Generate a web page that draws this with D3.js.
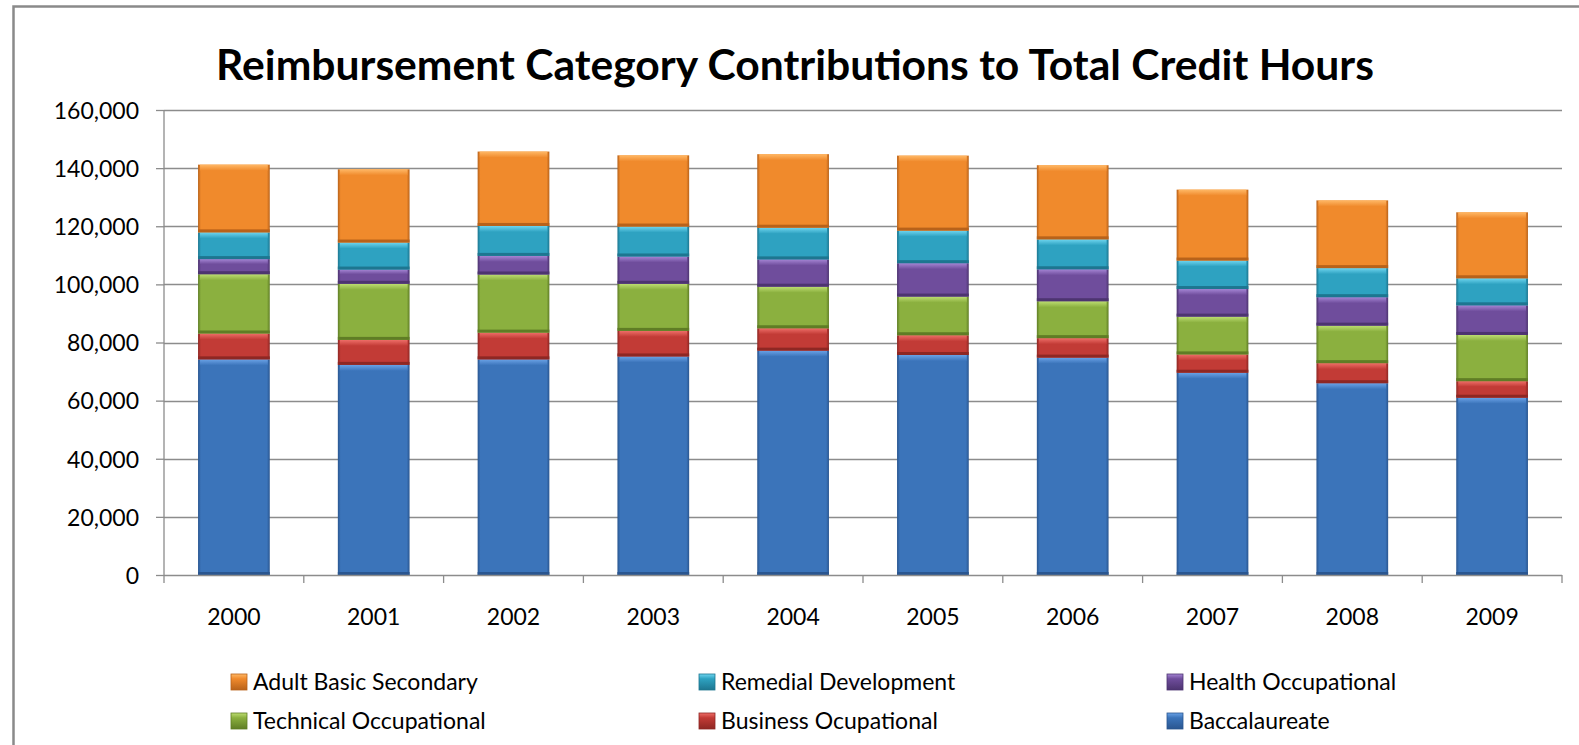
<!DOCTYPE html>
<html>
<head>
<meta charset="utf-8">
<script src="https://cdn.jsdelivr.net/npm/d3@7"></script>
<style>
  html, body { margin: 0; padding: 0; background: #fff; overflow: hidden; }
  svg { display: block; font-family: Lato, "Open Sans", sans-serif; }
</style>
</head>
<body>
<svg id="chart" width="1579" height="745"></svg>
<script>
// ---- data ----
const years = ["2000","2001","2002","2003","2004","2005","2006","2007","2008","2009"];
const baccalaureate = [74200, 72300, 74200, 75200, 77200, 75700, 74800, 69600, 66000, 61000];
const businessOccupational = [8900, 8600, 9200, 8800, 7700, 6800, 6700, 6300, 6900, 5700];
const technicalOccupational = [20400, 19300, 20000, 16200, 14300, 13300, 12700, 13000, 12900, 15900];
const healthOccupational = [5200, 4900, 6400, 9400, 9400, 11500, 11000, 9500, 9800, 10200];
const remedialDevelopment = [9200, 9300, 10300, 10300, 10900, 11200, 10300, 9800, 10000, 9300];
const adultBasicSecondary = [23300, 25200, 25600, 24500, 25300, 25800, 25500, 24400, 23300, 22700];
const seriesNames = ["Baccalaureate","Business Ocupational","Technical Occupational","Health Occupational","Remedial Development","Adult Basic Secondary"];
const seriesValues = [baccalaureate, businessOccupational, technicalOccupational, healthOccupational, remedialDevelopment, adultBasicSecondary];
const legendOrder = ["Adult Basic Secondary","Remedial Development","Health Occupational","Technical Occupational","Business Ocupational","Baccalaureate"];
const yTicks = [0, 20000, 40000, 60000, 80000, 100000, 120000, 140000, 160000];
const title = "Reimbursement Category Contributions to Total Credit Hours";

// ---- styles ----
const colors = {
  "Baccalaureate":          {base:"#3b74ba", light:"#6aa2e6", dark:"#2a5690"},
  "Business Ocupational":   {base:"#c23b36", light:"#ee6e68", dark:"#8e2723"},
  "Technical Occupational": {base:"#8bb03f", light:"#bddd72", dark:"#5f7d25"},
  "Health Occupational":    {base:"#6f4d9c", light:"#a585d4", dark:"#4d3470"},
  "Remedial Development":   {base:"#2ea2c1", light:"#6fd5ef", dark:"#1d7690"},
  "Adult Basic Secondary":  {base:"#f08a2c", light:"#ffb866", dark:"#b8621a"}
};
const labelFont = 23;

const svg = d3.select("#chart");
const plot = {left:164, right:1562, top:110, bottom:575};

// outer frame (only top and left edges are inside the window)
svg.append("path").attr("d", "M13.5,760V6.5H1600")
  .attr("fill", "none").attr("stroke", "#8a8a8a").attr("stroke-width", 2.5);

// gradients
const defs = svg.append("defs");
seriesNames.forEach((n, i) => {
  const c = colors[n];
  const g = defs.append("linearGradient").attr("id", "hg" + i).attr("x1", 0).attr("x2", 1).attr("y1", 0).attr("y2", 0);
  g.append("stop").attr("offset", "0%").attr("stop-color", c.dark);
  g.append("stop").attr("offset", "4%").attr("stop-color", c.base);
  g.append("stop").attr("offset", "96%").attr("stop-color", c.base);
  g.append("stop").attr("offset", "100%").attr("stop-color", c.dark);
  const t = defs.append("linearGradient").attr("id", "tg" + i).attr("x1", 0).attr("x2", 0).attr("y1", 0).attr("y2", 1);
  t.append("stop").attr("offset", "0%").attr("stop-color", c.light);
  t.append("stop").attr("offset", "100%").attr("stop-color", c.base);
  const m = defs.append("linearGradient").attr("id", "mg" + i).attr("x1", 0).attr("x2", 0).attr("y1", 0).attr("y2", 1);
  m.append("stop").attr("offset", "0%").attr("stop-color", c.light);
  m.append("stop").attr("offset", "30%").attr("stop-color", c.base);
  m.append("stop").attr("offset", "100%").attr("stop-color", c.dark);
});

// scales
const x = d3.scaleBand().domain(years).range([plot.left, plot.right]).paddingInner(0.487).paddingOuter(0.2435);
const y = d3.scaleLinear().domain([0, 160000]).range([plot.bottom, plot.top]);

// gridlines
svg.append("g").selectAll("line").data(yTicks.filter(d => d > 0)).join("line")
  .attr("x1", plot.left).attr("x2", plot.right)
  .attr("y1", d => Math.round(y(d)) + 0.5).attr("y2", d => Math.round(y(d)) + 0.5)
  .attr("stroke", "#8c8c8c").attr("stroke-width", 1.3);

// y axis
const yAxis = d3.axisLeft(y).tickValues(yTicks).tickSize(8).tickPadding(17)
  .tickFormat(d3.format(","));
const gy = svg.append("g").attr("transform", `translate(${plot.left},0)`).call(yAxis);
gy.select(".domain").attr("stroke", "#8c8c8c").attr("stroke-width", 1.3).attr("d", `M0,${plot.bottom}V${plot.top}`);
gy.selectAll(".tick line").attr("stroke", "#8c8c8c").attr("stroke-width", 1.3);
gy.selectAll(".tick text").attr("font-family", "Lato, sans-serif").attr("font-size", labelFont).attr("fill", "#000").attr("dy", "0.36em");

// stacked data
const table = years.map((yr, i) => {
  const o = {year: yr};
  seriesNames.forEach((n, k) => o[n] = seriesValues[k][i]);
  return o;
});
const stack = d3.stack().keys(seriesNames)(table);

const bars = svg.append("g");
stack.forEach((layer, k) => {
  const g = bars.append("g");
  layer.forEach(seg => {
    const x0 = x(seg.data.year), bw = x.bandwidth();
    const yTop = y(seg[1]), yBot = y(seg[0]);
    const h = yBot - yTop;
    g.append("rect").attr("x", x0).attr("y", yTop).attr("width", bw).attr("height", h).attr("fill", `url(#hg${k})`);
    const th = Math.min(6, h / 3);
    g.append("rect").attr("x", x0 + 2).attr("y", yTop).attr("width", bw - 4).attr("height", th).attr("fill", `url(#tg${k})`);
    const bh = Math.min(3, h / 4);
    g.append("rect").attr("x", x0).attr("y", yBot - bh).attr("width", bw).attr("height", bh).attr("fill", colors[seriesNames[k]].dark);
  });
});

// x axis
const xAxis = d3.axisBottom(x).tickSize(0).tickPadding(50);
const gx = svg.append("g").attr("transform", `translate(0,${plot.bottom})`).call(xAxis);
gx.select(".domain").attr("stroke", "#8c8c8c").attr("stroke-width", 1.3).attr("d", `M${plot.left},0.5H${plot.right}`);
gx.selectAll(".tick text").attr("font-family", "Lato, sans-serif").attr("font-size", labelFont).attr("fill", "#000").attr("dy", "0");
// category boundary ticks
const bounds = years.map(d => x(d) - x.step() * x.paddingInner() / 2).concat([plot.right]);
bounds[0] = plot.left;
gx.append("g").selectAll("line").data(bounds).join("line")
  .attr("x1", d => d).attr("x2", d => d).attr("y1", 0).attr("y2", 8)
  .attr("stroke", "#8c8c8c").attr("stroke-width", 1.3);

// title
const tt = svg.append("text").attr("x", 795).attr("y", 80).attr("text-anchor", "middle")
  .attr("font-family", "Lato, sans-serif").attr("font-weight", "bold").attr("font-size", 38).attr("fill", "#000")
  .text(title);
const tw = tt.node().getComputedTextLength();
tt.attr("font-size", 38 * 1158 / tw);

// legend
const legCols = [231, 699, 1167];
const legRows = [674, 713];
const lg = svg.append("g");
legendOrder.forEach((n, i) => {
  const k = seriesNames.indexOf(n);
  const lx = legCols[i % 3], ly = legRows[Math.floor(i / 3)];
  lg.append("rect").attr("x", lx).attr("y", ly).attr("width", 16).attr("height", 16)
    .attr("fill", `url(#mg${k})`).attr("stroke", colors[n].dark).attr("stroke-width", 0.8);
  lg.append("text").attr("x", lx + 22).attr("y", ly + 16).attr("font-family", "Lato, sans-serif")
    .attr("font-size", labelFont).attr("fill", "#000").text(n);
});
</script>
</body>
</html>
